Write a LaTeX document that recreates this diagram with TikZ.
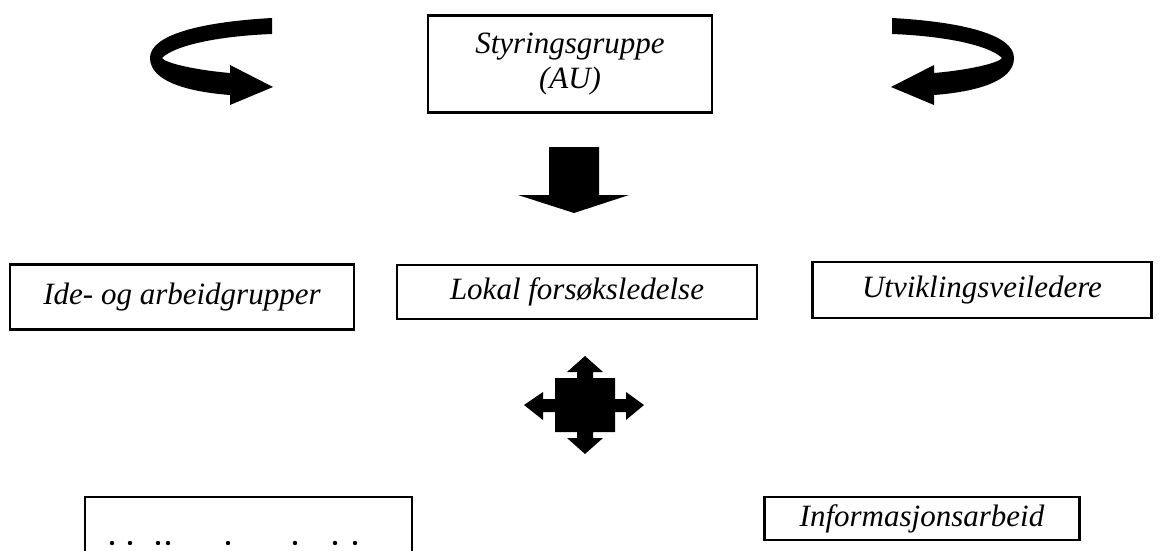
\documentclass[tikz,border=0pt]{standalone}
\usepackage{fontspec}
\setmainfont{Liberation Serif}
\begin{document}
\begin{tikzpicture}
[x=1pt,y=-1pt,line width=2.4pt,
 box/.style={draw,inner sep=0pt,align=center,font=\fontsize{31}{35}\selectfont\itshape},
 blokk/.style={fill=black,draw=none}]
\useasboundingbox (0,0) rectangle (1164,551);
\clip (0,0) rectangle (1164,551);
% boksene
\node[box,minimum width=284,minimum height=97] (styr) at (570,64) {Styringsgruppe\\(AU)};
\node[box,minimum width=344,minimum height=65] (ide) at (182,297) {Ide- og arbeidgrupper};
\node[box,minimum width=360,minimum height=54] (lokal) at (577,292) {Lokal forsøksledelse};
\node[box,minimum width=339,minimum height=56] (utv) at (982,290) {Utviklingsveiledere};
\node[box,minimum width=327,minimum height=100] (moter) at (248.5,547) {};
\node[box,minimum width=315,minimum height=43] (info) at (922,518.5) {Informasjonsarbeid};
% det som stikker opp av teksten nederst
\foreach \x in {112,130,158,168,228,295,335,355}
  \fill (\x,543) circle (2.2);
% snuepilene
\foreach \s in {1,-1}
  \fill[blokk,xshift=582pt,xscale=\s,xshift=-582pt]
    (272,18) .. controls (200,22) and (150,35) .. (150,58)
    .. controls (150,82) and (190,92) .. (230,95)
    -- (230,105) -- (273,87) -- (230,65) -- (230,73)
    .. controls (195,70) and (165,63) .. (162,58)
    .. controls (175,45) and (220,36) .. (272,34) -- cycle;
% blokkpilene
\fill[blokk] (549,147) -- (599,147) -- (599,195) -- (629,195) -- (574,213)
  -- (518,195) -- (549,195) -- cycle;
\fill[blokk] (555,378) -- (577,378) -- (577,372) -- (567,372) -- (585,356)
  -- (603,372) -- (593,372) -- (593,378) -- (615,378) -- (615,399)
  -- (626,399) -- (626,392) -- (644,405) -- (626,420) -- (626,412)
  -- (615,412) -- (615,432) -- (593,432) -- (593,438) -- (603,438)
  -- (585,454) -- (567,438) -- (577,438) -- (577,432) -- (555,432)
  -- (555,412) -- (543,412) -- (543,420) -- (524,405) -- (543,392)
  -- (543,399) -- (555,399) -- cycle;
\end{tikzpicture}
\end{document}
